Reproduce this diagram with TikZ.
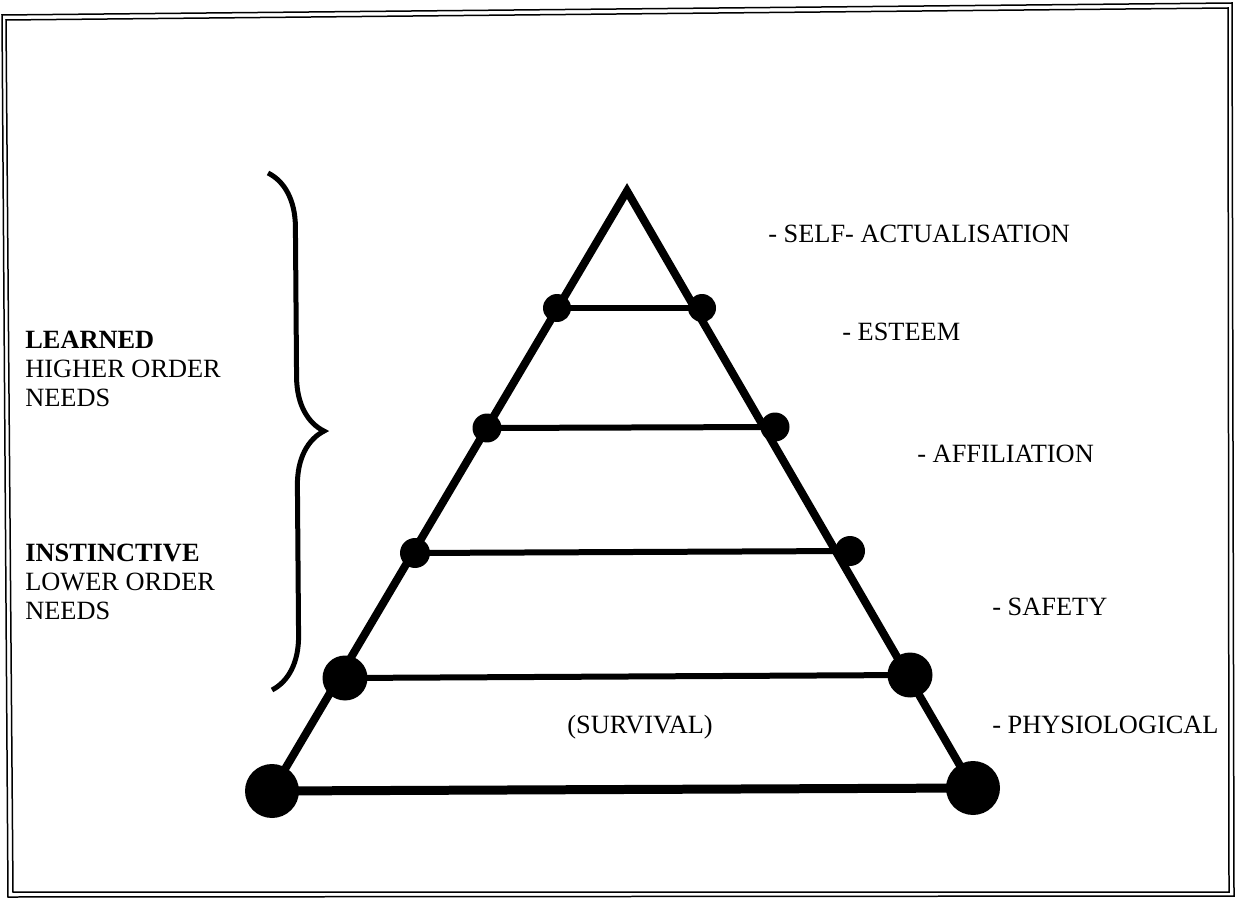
\documentclass[tikz,border=0pt]{standalone}
\usepackage{fontspec}
\setmainfont{Liberation Serif}
\usetikzlibrary{decorations.pathreplacing}

\begin{document}
\begin{tikzpicture}[x=0.02cm, y=-0.02cm,
    dot/.style={
        circle,
        fill=black,
        inner sep=0pt,
        minimum size=#1
    },
    side/.style={
        line width=0.16cm,
        line join=miter
    },
    rung/.style={
        line width=0.12cm
    },
    frameline/.style={
        line width=0.03cm
    },
    levtext/.style={
        anchor=base west,
        inner sep=0pt,
        font=\fontsize{15}{16.5}\selectfont
    },
    sidetext/.style={
        levtext,
        anchor=north west,
        align=left
    }
]

\useasboundingbox (0,0) rectangle (1240,898);

%------------------------------------------------
% Marco doble
%------------------------------------------------
\draw[frameline] (2,15) -- (1232,3) -- (1234,896) -- (8,897) -- cycle;
\draw[frameline] (6,20) -- (1228,8) -- (1229,892) -- (13,892) -- cycle;

%------------------------------------------------
% Puntos de la pirámide
%------------------------------------------------
\coordinate (apex) at (627,191);

\foreach \n/\xl/\yl/\xr/\yr/\d in {1/557/308/702/308/0.56cm,
                                   2/487/428/775/427/0.58cm,
                                   3/415/553/850/551/0.60cm,
                                   4/345/678/910/675/0.90cm,
                                   5/272/791/973/788/1.08cm} {
    \node[dot=\d] (l\n) at (\xl,\yl) {};
    \node[dot=\d] (r\n) at (\xr,\yr) {};
}

%------------------------------------------------
% Lados y niveles
%------------------------------------------------
\draw[side] (l5.center) -- (apex) -- (r5.center);

\foreach \n in {1,...,4} {
    \draw[rung] (l\n.center) -- (r\n.center);
}
\draw[line width=0.18cm] (l5.center) -- (r5.center);

%------------------------------------------------
% Llave
%------------------------------------------------
\coordinate (btop) at (268,173);
\coordinate (bbot) at (272,690);
\draw[line width=0.1cm, decorate, decoration={brace, amplitude=1.08cm}]
    (btop) -- (bbot);

%------------------------------------------------
% Textos
%------------------------------------------------
\node[levtext] (selfact) at (768,243) {- SELF- ACTUALISATION};
\node[levtext] (esteem)  at (842,340) {- ESTEEM};
\node[levtext] (affil)   at (917,462) {- AFFILIATION};
\node[levtext] (safety)  at (992,615) {- SAFETY};
\node[levtext] (physio)  at (992,733) {- PHYSIOLOGICAL};
\node[levtext, anchor=base] (survival) at (640,733) {(SURVIVAL)};

\node[sidetext] (learned) at (25,331)
    {\textbf{LEARNED}\\HIGHER ORDER\\NEEDS};
\node[sidetext] (instinct) at (25,544)
    {\textbf{INSTINCTIVE}\\LOWER ORDER\\NEEDS};

\end{tikzpicture}
\end{document}
